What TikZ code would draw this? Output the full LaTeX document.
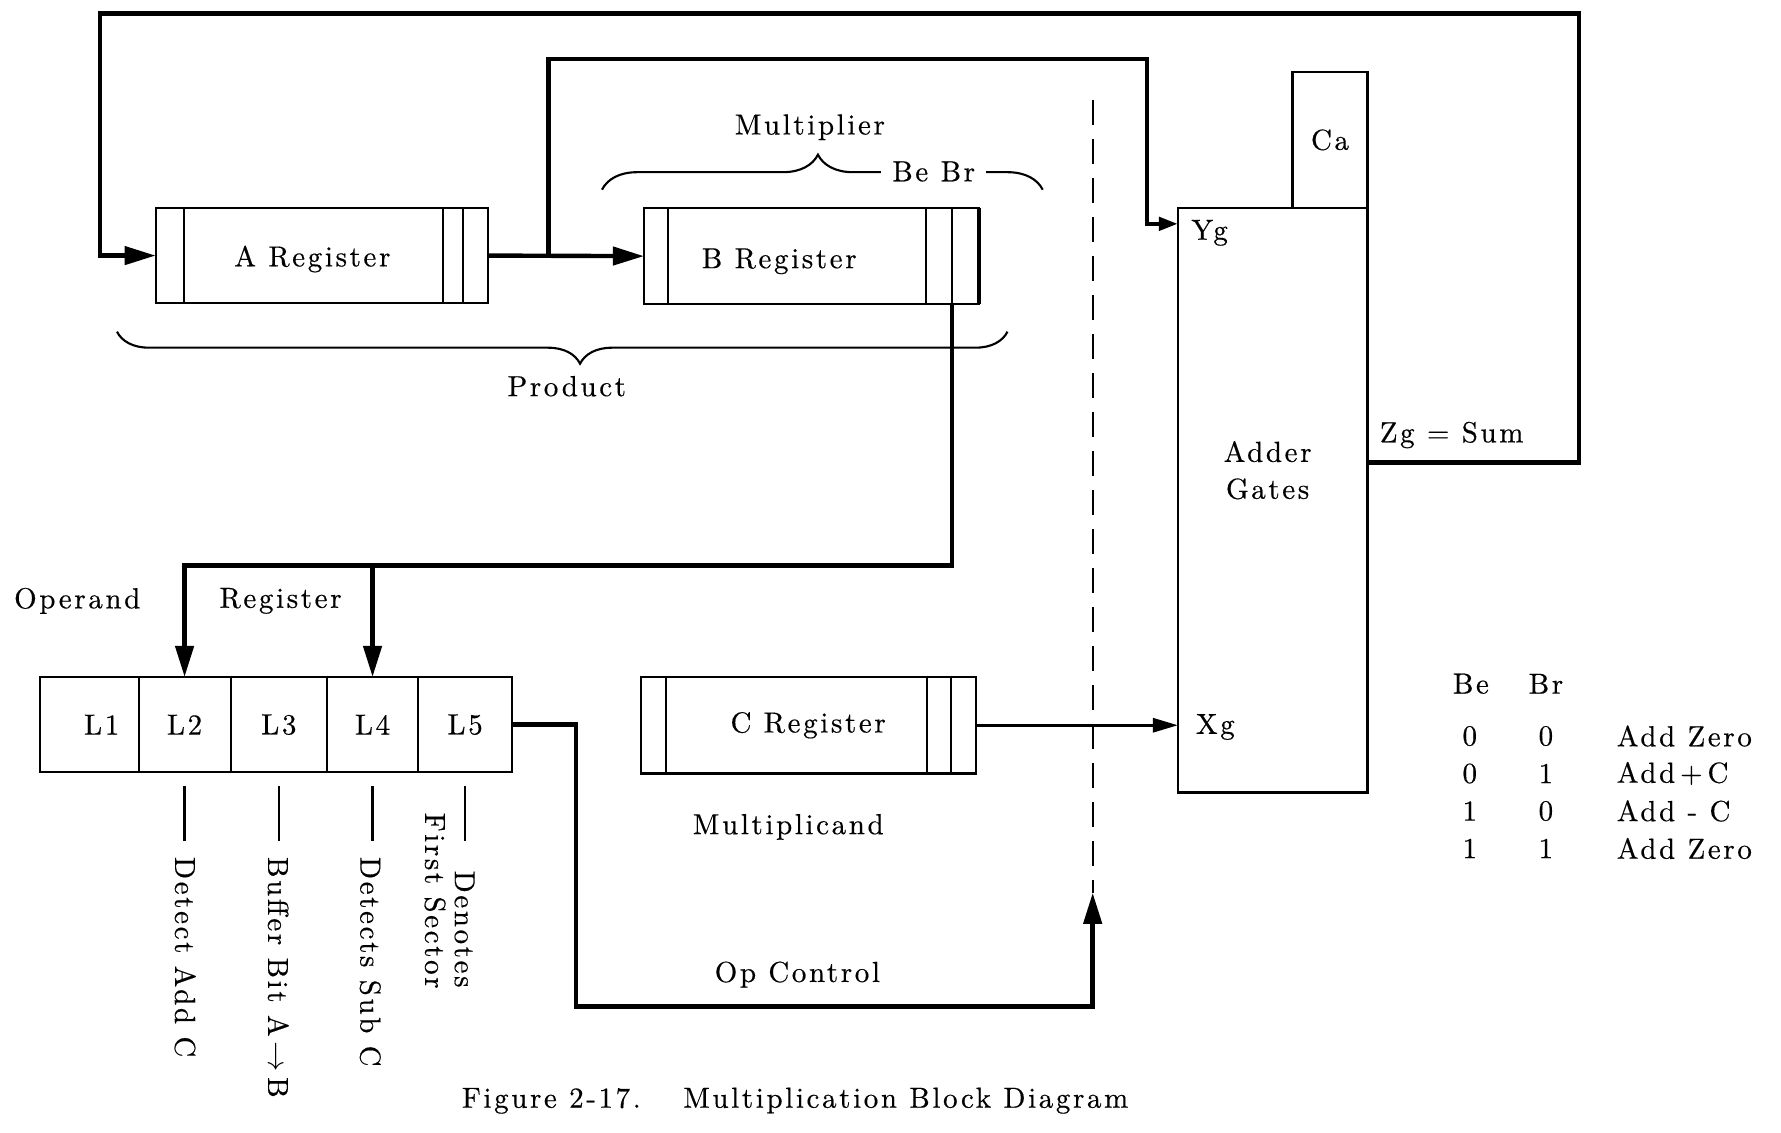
\documentclass[tikz,border=0pt]{standalone}
\usepackage{fontspec}
\setmainfont{lmroman10-regular.otf}[LetterSpace=9,FakeBold=0.4]
\usetikzlibrary{arrows.meta,calc,positioning,decorations.pathreplacing}

\begin{document}
\begin{tikzpicture}[x=0.0227cm,y=-0.0227cm,
every node/.style={font=\fontsize{16.5}{21}\selectfont},
box/.style={draw,line width=1.2pt,inner sep=0pt,outer sep=0pt},
cell/.style={box,minimum height=1.907cm},
bar/.style={line width=1.2pt},
bus/.style={line width=2.5pt},
cbus/.style={line width=1.7pt},
tick/.style={line width=1.3pt},
dashline/.style={line width=1.2pt,dash pattern=on 0.5cm off 0.28cm},
brc/.style={line width=1.2pt,decorate},
vtext/.style={rotate=-90,anchor=west},
>={Triangle[length=0.62cm,width=0.36cm]}]
\useasboundingbox (0,0) rectangle (1568,997);

% registers
\node[box,minimum width=6.65cm,minimum height=1.907cm] (areg) at (283.5,225) {};
\node (atxt) at (275,228) {A Register};
\node[box,minimum width=6.70cm,minimum height=1.93cm] (breg) at (714.5,225.5) {};
\node (btxt) at (686,230) {B Register};
\node[box,minimum width=6.70cm,minimum height=1.93cm] (creg) at (711.5,638.5) {C Register};
\draw[bar] ($(areg.north west)+(25,0)$) -- ($(areg.south west)+(25,0)$);
\draw[bar] ($(areg.north east)+(-40,0)$) -- ($(areg.south east)+(-40,0)$);
\draw[bar] ($(areg.north east)+(-22,0)$) -- ($(areg.south east)+(-22,0)$);
\draw[bar] ($(breg.north west)+(21,0)$) -- ($(breg.south west)+(21,0)$);
\draw[bar] ($(breg.north east)+(-47,0)$) -- ($(breg.south east)+(-47,0)$);
\draw[bar] ($(breg.north east)+(-24,0)$) -- ($(breg.south east)+(-24,0)$);
\draw[line width=2.2pt] (breg.north east) -- (breg.south east);
\draw[bar] ($(creg.north west)+(22,0)$) -- ($(creg.south west)+(22,0)$);
\draw[bar] ($(creg.north east)+(-43,0)$) -- ($(creg.south east)+(-43,0)$);
\draw[bar] ($(creg.north east)+(-22,0)$) -- ($(creg.south east)+(-22,0)$);

% operand register
\node[cell,minimum width=1.975cm] (L1) at (78.5,638) {\hspace{0.5cm}L1};
\node[cell,minimum width=1.839cm,right=0pt of L1] (L2) {L2};
\node[cell,minimum width=1.93cm,right=0pt of L2] (L3) {L3};
\node[cell,minimum width=1.816cm,right=0pt of L3] (L4) {L4};
\node[cell,minimum width=1.884cm,right=0pt of L4] (L5) {L5};
\node (opnd) at (68,529) {Operand};
\node (oreg) at (247,529) {Register};
\foreach \c in {L2,L3,L4,L5}
  \draw[tick] ($(\c.south)+(0,12)$) -- ++(0,48);
\node[vtext] (dac) at (163,749) {Detect Add C};
\node[vtext] (bab) at (245,749) {Buffer Bit A$\,\rightarrow\,$B};
\node[vtext] (dsc) at (326,749) {Detects Sub C};
\node[vtext] (dnt) at (409,761) {Denotes};
\node[vtext] (fsc) at (383,710) {First Sector};

% adder
\node[draw,line width=1.5pt,minimum width=3.79cm,minimum height=11.69cm,inner sep=0pt,outer sep=0pt] (adder) at (1120.5,440.5) {};
\node[box,line width=1.5pt,minimum width=1.5cm,minimum height=2.72cm,anchor=south east] (ca) at (adder.north east) {Ca};
\node[align=center] (agtxt) at (1116,414) {Adder\\Gates};
\node (yg) at (1065,205) {Yg};
\node (xg) at (1070,640) {Xg};
\node (zg) at (1278,383) {Zg = Sum};

% braces
\draw[brc,decoration={brace,amplitude=0.7cm,aspect=0.49}] (530,167) -- (918,167);
\node[fill=white,inner xsep=0.22cm] (bebr) at (822,151) {Be Br};
\node (mult) at (713,112) {Multiplier};
\draw[brc,decoration={brace,amplitude=0.64cm,aspect=0.48}] (887,292) -- (103,292);
\node (prod) at (499,340) {Product};
\node (mcand) at (694,728) {Multiplicand};
\node (opc) at (702,858) {Op Control};

% connectors
\coordinate (brA) at (483,225);
\coordinate (ygin) at ($(adder.north west)+(0,14)$);
\coordinate (zgout) at ($(adder.north east)+(0,224)$);
\coordinate (bout) at ($(breg.south east)+(-24,0)$);
\coordinate (opend) at (962,786);
\coordinate (dtop) at (962,88);
\draw[bus,->] (areg.east) -- (breg.west);
\draw[bus,-{Triangle[length=0.38cm,width=0.26cm]}] (brA) |- (1010,52) |- (ygin);
\draw[bus,->] (zgout) -| (1390,12) -| (88,225) -- (areg.west);
\draw[bus,->] (bout) |- ($(L2.north)+(0,-98)$) -- (L2.north);
\draw[bus,->] ($(L4.north)+(0,-98)$) -- (L4.north);
\draw[bus,->] (L5.east) -- ++(56,0) |- ($(opend)+(0,100)$) -- (opend);
\draw[dashline] (dtop) -- (opend);
\draw[cbus,-{Triangle[length=0.5cm,width=0.28cm]}] (creg.east) -- (creg.east -| adder.west);

% table
\node (hbe) at (1295,602) {Be};
\node (hbr) at (1361,602) {Br};
\foreach \y/\a/\b/\t [count=\i] in {648/0/0/Add Zero,681/0/1/Add\,+\,C,714/1/0/Add - C,747/1/1/Add Zero}{
  \node (be\i) at (1294,\y) {\a};
  \node (br\i) at (1361,\y) {\b};
  \node[anchor=west] (act\i) at (1418,\y) {\t};
}

\node (cap) at (700,969) {Figure 2-17.\hspace{0.9em} Multiplication Block Diagram};
\end{tikzpicture}
\end{document}
